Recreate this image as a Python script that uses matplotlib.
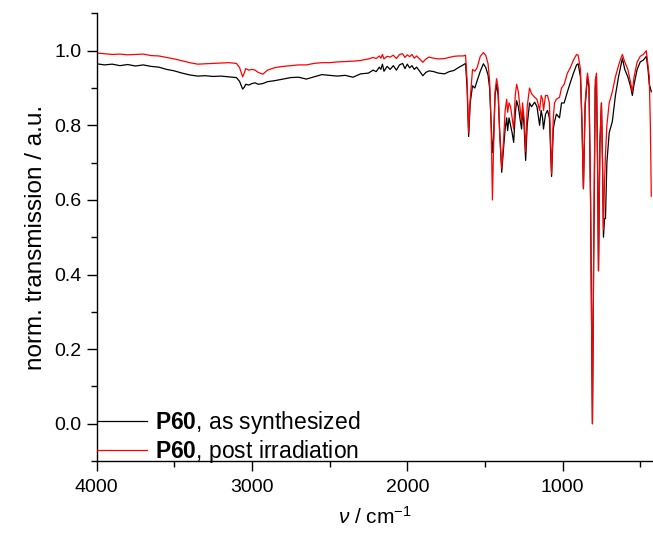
import matplotlib
matplotlib.use("Agg")
import matplotlib.pyplot as plt
from matplotlib.ticker import MultipleLocator

plt.rcParams['font.family'] = ['Liberation Sans', 'DejaVu Sans']
plt.rcParams['mathtext.fontset'] = 'custom'
plt.rcParams['mathtext.rm'] = 'Liberation Sans'
plt.rcParams['mathtext.bf'] = 'Liberation Sans:bold'
plt.rcParams['mathtext.it'] = 'Liberation Sans:italic'

# wavenumber (cm^-1)
wavenumber = [
    4000, 3950, 3900, 3850, 3800, 3750, 3700, 3650, 3600, 3550, 3500, 3450, 3400,
    3350, 3300, 3250, 3200, 3150, 3100, 3080, 3060, 3050, 3040, 3020, 3000, 2980,
    2960, 2930, 2900, 2850, 2800, 2750, 2700, 2650, 2600, 2550, 2500, 2450, 2400,
    2350, 2300, 2250, 2220, 2200, 2180, 2170, 2160, 2150, 2130, 2110, 2090, 2070,
    2050, 2030, 2015, 2000, 1985, 1970, 1955, 1940, 1920, 1900, 1880, 1860, 1830,
    1800, 1760, 1730, 1700, 1670, 1640, 1625, 1615, 1605, 1595, 1580, 1565, 1550,
    1530, 1510, 1495, 1480, 1470, 1460, 1452, 1445, 1435, 1425, 1415, 1405, 1392,
    1380, 1370, 1360, 1354, 1345, 1335, 1325, 1315, 1305, 1296, 1285, 1275, 1264,
    1258, 1248, 1238, 1228, 1213, 1200, 1180, 1165, 1148, 1138, 1129, 1123, 1110,
    1097, 1085, 1071, 1060, 1052, 1040, 1020, 1007, 990, 969, 950, 930, 910, 900,
    885, 875, 866, 855, 840, 830, 820, 808, 800, 790, 782, 775, 769, 760, 750, 743,
    737, 730, 724, 715, 700, 680, 660, 640, 625, 615, 600, 580, 560, 551, 540, 520,
    500, 480, 461, 450, 442, 435, 429,
]

as_synthesized = [
    0.965, 0.962, 0.964, 0.960, 0.963, 0.959, 0.962, 0.958, 0.956, 0.950, 0.946, 0.940, 0.935,
    0.932, 0.933, 0.931, 0.932, 0.930, 0.928, 0.918, 0.897, 0.902, 0.910, 0.908, 0.912, 0.914,
    0.910, 0.912, 0.917, 0.920, 0.924, 0.928, 0.929, 0.924, 0.930, 0.936, 0.934, 0.932, 0.934,
    0.929, 0.938, 0.940, 0.948, 0.944, 0.956, 0.950, 0.964, 0.945, 0.958, 0.950, 0.960, 0.948,
    0.962, 0.966, 0.952, 0.964, 0.954, 0.960, 0.950, 0.956, 0.945, 0.933, 0.942, 0.946, 0.944,
    0.940, 0.938, 0.944, 0.947, 0.955, 0.962, 0.966, 0.900, 0.770, 0.860, 0.906, 0.900, 0.920,
    0.945, 0.965, 0.955, 0.935, 0.900, 0.800, 0.727, 0.760, 0.880, 0.910, 0.880, 0.780, 0.674,
    0.740, 0.790, 0.820, 0.786, 0.820, 0.800, 0.780, 0.754, 0.830, 0.866, 0.850, 0.820, 0.790,
    0.840, 0.800, 0.706, 0.800, 0.860, 0.850, 0.862, 0.850, 0.800, 0.840, 0.820, 0.790, 0.830,
    0.840, 0.820, 0.663, 0.790, 0.810, 0.830, 0.820, 0.860, 0.860, 0.890, 0.915, 0.940, 0.962, 0.965,
    0.930, 0.800, 0.630, 0.850, 0.930, 0.900, 0.600, 0.000, 0.450, 0.900, 0.930, 0.700, 0.410, 0.750, 0.860, 0.700,
    0.500, 0.550, 0.550, 0.700, 0.780, 0.810, 0.880, 0.930, 0.960, 0.980, 0.950, 0.930, 0.900, 0.880, 0.910, 0.950,
    0.970, 0.975, 0.985, 0.950, 0.910, 0.900, 0.890,
]

post_irradiation = [
    0.994, 0.992, 0.990, 0.991, 0.989, 0.990, 0.991, 0.987, 0.986, 0.982, 0.978, 0.973, 0.968,
    0.964, 0.965, 0.966, 0.967, 0.968, 0.966, 0.955, 0.930, 0.940, 0.952, 0.948, 0.950, 0.948,
    0.942, 0.937, 0.948, 0.955, 0.958, 0.960, 0.962, 0.962, 0.966, 0.968, 0.968, 0.970, 0.971,
    0.972, 0.974, 0.978, 0.982, 0.979, 0.986, 0.980, 0.990, 0.978, 0.985, 0.983, 0.988, 0.979,
    0.990, 0.992, 0.982, 0.989, 0.984, 0.990, 0.980, 0.986, 0.978, 0.969, 0.978, 0.983, 0.980,
    0.978, 0.979, 0.982, 0.985, 0.986, 0.986, 0.988, 0.920, 0.780, 0.870, 0.950, 0.945, 0.955,
    0.985, 0.995, 0.988, 0.965, 0.920, 0.800, 0.600, 0.730, 0.890, 0.925, 0.900, 0.780, 0.685,
    0.760, 0.840, 0.870, 0.835, 0.860, 0.850, 0.820, 0.790, 0.880, 0.910, 0.890, 0.850, 0.810,
    0.860, 0.820, 0.730, 0.850, 0.900, 0.885, 0.875, 0.870, 0.840, 0.880, 0.870, 0.840, 0.880,
    0.880, 0.860, 0.670, 0.820, 0.860, 0.870, 0.875, 0.900, 0.910, 0.940, 0.955, 0.975, 0.990, 0.988,
    0.950, 0.800, 0.630, 0.860, 0.940, 0.910, 0.600, 0.000, 0.450, 0.920, 0.940, 0.700, 0.410, 0.750, 0.860, 0.700,
    0.520, 0.650, 0.720, 0.800, 0.860, 0.890, 0.930, 0.960, 0.980, 0.990, 0.970, 0.950, 0.910, 0.890, 0.930, 0.970,
    0.985, 0.990, 1.000, 0.960, 0.930, 0.800, 0.610,
]

labels = [r'$\mathbf{P60}$, as synthesized', r'$\mathbf{P60}$, post irradiation']
colors = ['black', '#ff0000']

fig = plt.figure(figsize=(6.53, 5.35), dpi=100)
ax = fig.add_axes([0.148, 0.1383, 0.852, 0.8366])

ax.plot(wavenumber, as_synthesized, color=colors[0], lw=0.9, label=labels[0])
ax.plot(wavenumber, post_irradiation, color=colors[1], lw=0.9, label=labels[1])

ax.set_xlim(4000, 418)
ax.set_ylim(-0.1, 1.1)
ax.xaxis.set_major_locator(MultipleLocator(1000))
ax.xaxis.set_minor_locator(MultipleLocator(500))
ax.yaxis.set_major_locator(MultipleLocator(0.2))
ax.yaxis.set_minor_locator(MultipleLocator(0.1))
ax.yaxis.set_major_formatter(matplotlib.ticker.FormatStrFormatter('%.1f'))

for s in ['top', 'right']:
    ax.spines[s].set_visible(False)
for s in ['left', 'bottom']:
    ax.spines[s].set_linewidth(1.0)

ax.tick_params(which='major', direction='out', length=7, width=1.0, labelsize=14, pad=4)
ax.tick_params(which='minor', direction='out', length=4, width=1.0)
ax.tick_params(axis='x', which='major', pad=6)

ax.set_xlabel(r'$\mathit{\nu}$ / cm$^{-1}$', fontsize=15, labelpad=7)
ax.set_ylabel('norm. transmission / a.u.', fontsize=17.5, labelpad=5)

ax.legend(loc='lower left', frameon=False, fontsize=16.5, handlelength=2.2,
          handletextpad=0.35, labelspacing=0.1, borderpad=0, borderaxespad=0.1,
          bbox_to_anchor=(-0.004, -0.014))

fig.savefig('out.png', dpi=100)
